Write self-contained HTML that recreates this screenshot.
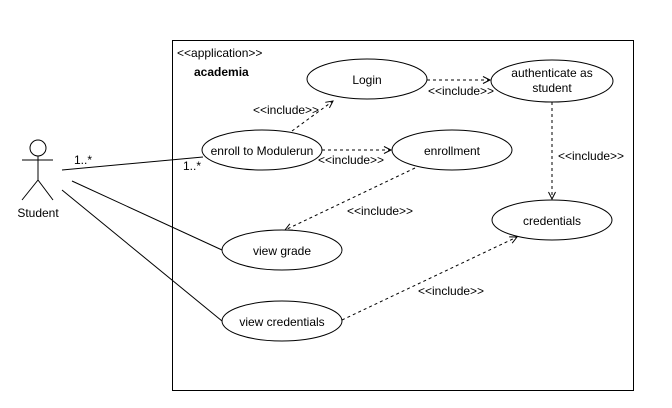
<!DOCTYPE html>
<html><head><meta charset="utf-8"><style>
html,body{margin:0;padding:0;background:#fff;}
svg{display:block;}
text{font-family:"Liberation Sans",Arial,sans-serif;font-size:12px;fill:#000;}
</style></head><body>
<svg width="672" height="408" viewBox="0 0 672 408" xmlns="http://www.w3.org/2000/svg">
<defs>
<marker id="a" markerWidth="10" markerHeight="10" refX="8" refY="4" orient="auto" markerUnits="userSpaceOnUse">
<path d="M1,0.5 L8,4 L1,7.5" fill="none" stroke="#000" stroke-width="1"/>
</marker>
</defs>
<rect x="172.5" y="40.5" width="461" height="350" fill="none" stroke="#000"/>
<text x="177" y="57">&lt;&lt;application&gt;&gt;</text>
<text x="194" y="76" font-weight="bold">academia</text>

<circle cx="38" cy="148" r="8" fill="#fff" stroke="#000"/>
<line x1="38" y1="156" x2="38" y2="180" stroke="#000"/>
<line x1="22" y1="160" x2="53" y2="160" stroke="#000"/>
<line x1="38" y1="180" x2="22" y2="200" stroke="#000"/>
<line x1="38" y1="180" x2="53" y2="200" stroke="#000"/>
<text x="38" y="217" text-anchor="middle">Student</text>

<line x1="62" y1="170" x2="203" y2="157" stroke="#000"/>
<line x1="72" y1="181" x2="222" y2="250" stroke="#000"/>
<line x1="62" y1="190" x2="222" y2="321" stroke="#000"/>
<text x="74" y="164">1..*</text>
<text x="183" y="170">1..*</text>

<g stroke="#000" stroke-dasharray="3,3" fill="none" marker-end="url(#a)">
<line x1="292" y1="131" x2="333" y2="101"/>
<line x1="427" y1="80" x2="490" y2="80"/>
<line x1="322" y1="150" x2="391" y2="150"/>
<line x1="415" y1="168" x2="285" y2="230"/>
<line x1="552" y1="102" x2="552" y2="199"/>
<line x1="342" y1="320" x2="517" y2="237"/>
</g>
<text x="253" y="114">&lt;&lt;include&gt;&gt;</text>
<text x="428" y="95">&lt;&lt;include&gt;&gt;</text>
<text x="318" y="164">&lt;&lt;include&gt;&gt;</text>
<text x="347" y="215">&lt;&lt;include&gt;&gt;</text>
<text x="558" y="160">&lt;&lt;include&gt;&gt;</text>
<text x="418" y="295">&lt;&lt;include&gt;&gt;</text>

<g fill="#fff" stroke="#000">
<ellipse cx="367" cy="79" rx="60" ry="20"/>
<ellipse cx="552" cy="81" rx="61" ry="21"/>
<ellipse cx="262" cy="150" rx="60" ry="20"/>
<ellipse cx="452" cy="150" rx="60" ry="20"/>
<ellipse cx="552" cy="220" rx="60" ry="20"/>
<ellipse cx="282" cy="250" rx="60" ry="20"/>
<ellipse cx="282" cy="321" rx="60" ry="20"/>
</g>
<g text-anchor="middle">
<text x="367" y="84">Login</text>
<text x="552" y="77">authenticate as</text>
<text x="552" y="92">student</text>
<text x="262" y="155">enroll to Modulerun</text>
<text x="452" y="155">enrollment</text>
<text x="552" y="225">credentials</text>
<text x="282" y="255">view grade</text>
<text x="282" y="326">view credentials</text>
</g>
</svg>
</body></html>
